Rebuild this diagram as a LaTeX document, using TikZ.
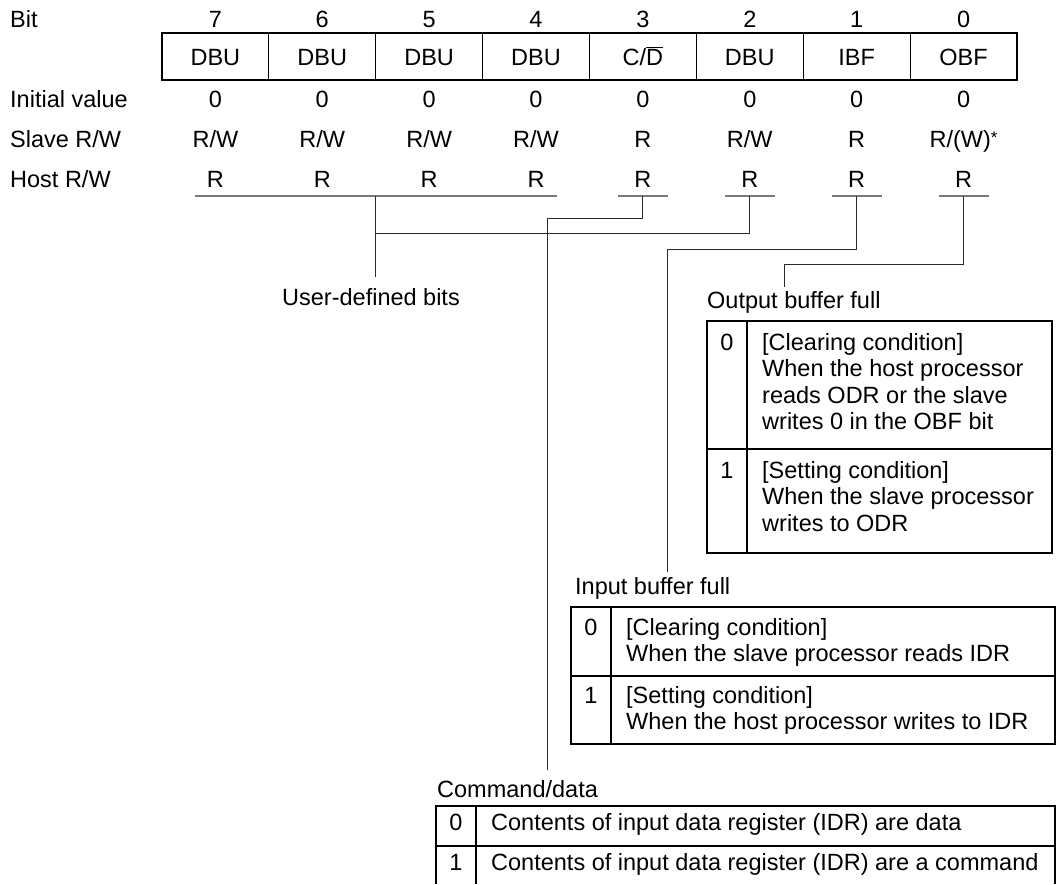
\documentclass[tikz,border=0pt]{standalone}
\usepackage{fontspec}
\setmainfont{Liberation Sans}
\usepackage{tikz}
\usepackage{xcolor}
\usetikzlibrary{positioning, calc}
\definecolor{lineagris}{HTML}{7A7A7A}
\definecolor{conector}{HTML}{2A2A2A}

\begin{document}
\begin{tikzpicture}[x=1pt, y=-1pt,
    texto/.style={font=\fontsize{23.5}{26.5}\selectfont, inner sep=0pt},
    etiqueta/.style={texto, anchor=base west, align=left},
    centro/.style={texto, anchor=base},
    celda/.style={texto, draw, line width=1.2pt, minimum width=106.875pt,
                  minimum height=47pt, text height=17pt, text depth=0pt},
    tabla/.style={line width=1.2pt},
    guia/.style={lineagris, line width=1.3pt},
    enlace/.style={conector, line width=1pt}]

        \useasboundingbox (0,0) rectangle (1057,884);

        % Etiquetas de las filas
        \node[etiqueta] (bit_label) at (10,27) {Bit};
        \node[etiqueta] (ini_label) at (10,107) {Initial value};
        \node[etiqueta] (slave_label) at (10,147.5) {Slave R/W};
        \node[etiqueta] (host_label) at (10,187.5) {Host R/W};

        % Registro: numero de bit, celda, valor inicial
        \foreach \nombre [count=\i from 0] in {DBU,DBU,DBU,DBU,{C/$\overline{\mbox{D}}$},DBU,IBF,OBF} {
            \pgfmathsetmacro{\xc}{215.4+106.875*\i}
            \pgfmathtruncatemacro{\b}{7-\i}
            \node[centro] (num-\b) at (\xc,27) {\b};
            \node[celda] (reg-\b) at (\xc,56.5) {\nombre};
            \node[centro] (ini-\b) at (\xc,107) {0};
            \node[centro] (host-\b) at (\xc,187.5) {R};
            \coordinate (g-\b) at (\xc,196);
        }

        % Acceso del esclavo
        \foreach \acc [count=\i from 0] in {R/W,R/W,R/W,R/W,R,R/W,R,{R/(W)\raisebox{4pt}{\fontsize{17}{17}\selectfont *}}} {
            \pgfmathsetmacro{\xc}{215.4+106.875*\i}
            \pgfmathtruncatemacro{\b}{7-\i}
            \node[centro] (slave-\b) at (\xc,147.5) {\acc};
        }

        % Lineas guia bajo "Host R/W"
        \draw[guia] ([xshift=-20.4pt]g-7) -- ([xshift=21pt]g-4);
        \foreach \b in {3,2,1,0}
            \draw[guia] ([xshift=-25pt]g-\b) -- ([xshift=25pt]g-\b);
        \coordinate (g-ud) at (375,196);

        % Codos de los conectores
        \coordinate (ud_union) at (375,233);
        \coordinate (cd_codo) at (547,218);
        \coordinate (ibf_codo) at (667,249);
        \coordinate (obf_codo) at (784,264);

        % Etiquetas de los campos
        \node[centro] (ud_label) at (371,305) {User-defined bits};
        \node[etiqueta] (obf_label) at (707,308) {Output buffer full};
        \node[etiqueta] (ibf_label) at (575,594) {Input buffer full};
        \node[etiqueta] (cmd_label) at (437,797) {Command/data};

        % Conectores
        \draw[enlace, shorten >=11pt] (g-ud) -- (g-ud |- ud_label.north);
        \draw[enlace] (g-2) |- (ud_union);
        \draw[enlace, shorten >=10pt] (g-3) |- (cd_codo) -- (cd_codo |- cmd_label.north);
        \draw[enlace, shorten >=5pt] (g-1) |- (ibf_codo) -- (ibf_codo |- ibf_label.north);
        \draw[enlace, shorten >=4pt] (g-0) |- (obf_codo) -- (obf_codo |- obf_label.north);

        % Tabla "Output buffer full" (texto anclado en la ultima linea)
        \draw[tabla] (707,321) rectangle (1052,553);
        \draw[tabla] (747,321) -- (747,553);
        \draw[tabla] (707,449) -- (1052,449);
        \node[centro] (obf_v0) at (727,350) {0};
        \node[etiqueta] (obf_t0) at (762,429.5) {[Clearing condition]\\When the host processor\\reads ODR or the slave\\writes 0 in the OBF bit};
        \node[centro] (obf_v1) at (727,478) {1};
        \node[etiqueta] (obf_t1) at (762,531) {[Setting condition]\\When the slave processor\\writes to ODR};

        % Tabla "Input buffer full"
        \draw[tabla] (571,607) rectangle (1055,744);
        \draw[tabla] (611,607) -- (611,744);
        \draw[tabla] (571,676) -- (1055,676);
        \node[centro] (ibf_v0) at (591,635) {0};
        \node[etiqueta] (ibf_t0) at (626,661.5) {[Clearing condition]\\When the slave processor reads IDR};
        \node[centro] (ibf_v1) at (591,703) {1};
        \node[etiqueta] (ibf_t1) at (626,729.5) {[Setting condition]\\When the host processor writes to IDR};

        % Tabla "Command/data" (cortada abajo)
        \draw[tabla] (436,884) -- (436,806) -- (1055,806) -- (1055,884);
        \draw[tabla] (476,806) -- (476,884);
        \draw[tabla] (436,846) -- (1055,846);
        \node[centro] (cmd_v0) at (456,830) {0};
        \node[etiqueta] (cmd_t0) at (491,830) {Contents of input data register (IDR) are data};
        \node[centro] (cmd_v1) at (456,870) {1};
        \node[etiqueta] (cmd_t1) at (491,870) {Contents of input data register (IDR) are a command};

    \end{tikzpicture}
\end{document}
